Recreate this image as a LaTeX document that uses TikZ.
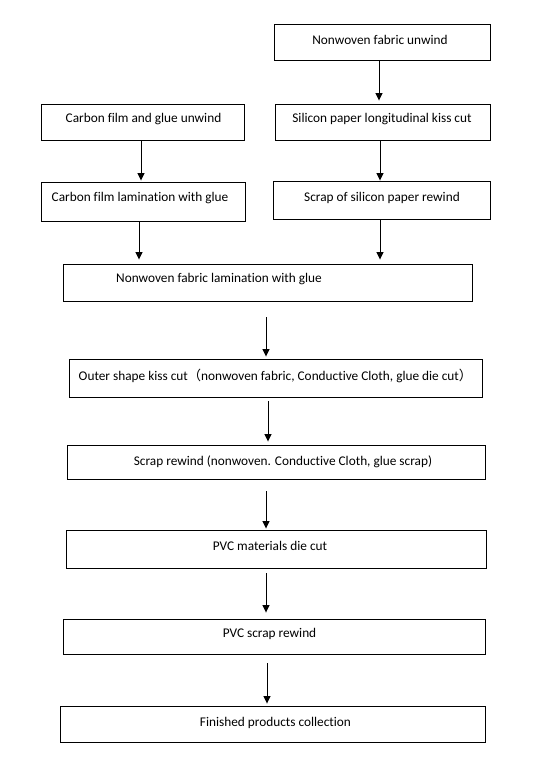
\documentclass[tikz,border=0pt]{standalone}
\usepackage{fontspec}
\setmainfont[Ligatures={NoCommon,NoRare}]{Carlito}
\newfontfamily\cjk{Noto Sans CJK SC}
\usetikzlibrary{arrows.meta}
\begin{document}
\begin{tikzpicture}[x=1pt,y=-1pt,
  box/.style={draw=black,line width=0.9pt,inner sep=0pt,fill=white},
  txt/.style={inner sep=0pt,font=\fontsize{13.3}{15}\selectfont,text=black},
  arr/.style={draw=black,line width=0.9pt,-{Triangle[width=7pt,length=7.5pt]}}]
\useasboundingbox[fill=white] (0,0) rectangle (539,765);
% boxes
\node[box,minimum width=216pt,minimum height=36pt] (a) at (382,42) {};
\node[box,minimum width=215pt,minimum height=36pt] (b) at (382.5,122) {};
\node[box,minimum width=203pt,minimum height=36pt] (c) at (142.5,122) {};
\node[box,minimum width=204pt,minimum height=39pt] (d) at (143,201.5) {};
\node[box,minimum width=217pt,minimum height=38pt] (e) at (381.5,200) {};
\node[box,minimum width=409pt,minimum height=37pt] (f) at (267.5,282.5) {};
\node[box,minimum width=413pt,minimum height=38pt] (g) at (275.5,378) {};
\node[box,minimum width=418pt,minimum height=34pt] (h) at (276,462) {};
\node[box,minimum width=420pt,minimum height=38pt] (i) at (276,549) {};
\node[box,minimum width=422pt,minimum height=35pt] (j) at (274,636.5) {};
\node[box,minimum width=425pt,minimum height=36pt] (k) at (272.5,724) {};
% texts
\node[txt] (ta) at (380,39.5) {Nonwoven fabric unwind};
\node[txt] (tb) at (382,119.5) {Silicon paper longitudinal kiss cut};
\node[txt] (tc) at (143.5,119.5) {Carbon film and glue unwind};
\node[txt] (td) at (140,198.5) {Carbon film lamination with glue};
\node[txt] (te) at (382,198) {Scrap of silicon paper rewind};
\node[txt] (tf) at (219,279.5) {Nonwoven fabric lamination with glue};
\node[txt] (tg) at (275.5,376) {Outer shape kiss cut{\cjk （}nonwoven fabric, Conductive Cloth, glue die cut{\cjk ）}};
\node[txt] (th) at (283,462) {Scrap rewind (nonwoven. Conductive Cloth, glue scrap)};
\node[txt] (ti) at (270,546) {PVC materials die cut};
\node[txt] (tj) at (269.5,634) {PVC scrap rewind};
\node[txt] (tk) at (275.5,722.5) {Finished products collection};
% arrows
\draw[arr,shorten >=3pt] ([xshift=-3pt]a.south) -- ([xshift=-3pt]a.south |- b.north);
\draw[arr,shorten >=1pt] ([xshift=-1.5pt]c.south) -- ([xshift=-1.5pt]c.south |- d.north);
\draw[arr,shorten >=0pt] ([xshift=-2.5pt]b.south) -- ([xshift=-2.5pt]b.south |- e.north);
\draw[arr,shorten >=4pt] ([xshift=-4pt]d.south) -- ([xshift=-4pt]d.south |- f.north);
\draw[arr,shorten >=4pt] ([xshift=-1.5pt]e.south) -- ([xshift=-1.5pt]e.south |- f.north);
\draw[arr,shorten <=16pt,shorten >=2pt] ([xshift=-1.5pt]f.south) -- ([xshift=-1.5pt]f.south |- g.north);
\draw[arr,shorten <=4pt,shorten >=3pt] ([xshift=-7.5pt]g.south) -- ([xshift=-7.5pt]g.south |- h.north);
\draw[arr,shorten <=12pt,shorten >=1pt] ([xshift=-10pt]h.south) -- ([xshift=-10pt]h.south |- i.north);
\draw[arr,shorten <=5pt,shorten >=6pt] ([xshift=-10pt]i.south) -- ([xshift=-10pt]i.south |- j.north);
\draw[arr,shorten <=9pt,shorten >=2pt] ([xshift=-7pt]j.south) -- ([xshift=-7pt]j.south |- k.north);
\end{tikzpicture}
\end{document}
